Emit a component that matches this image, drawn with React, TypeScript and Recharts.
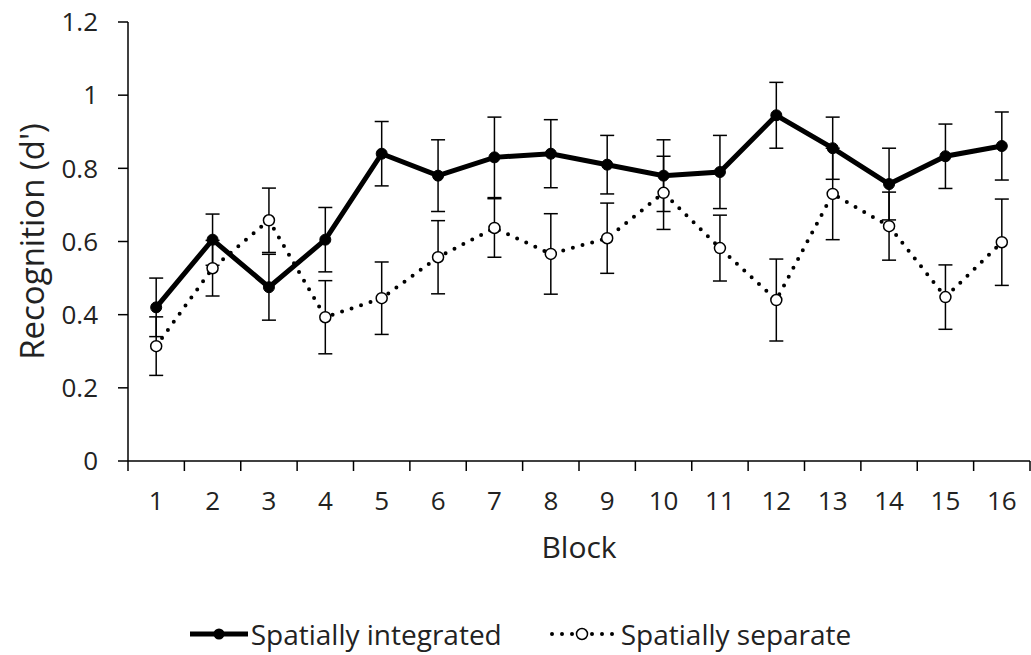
import React from 'react';
import { LineChart, Line, XAxis, YAxis, ErrorBar, Legend } from 'recharts';

const blocks = [1, 2, 3, 4, 5, 6, 7, 8, 9, 10, 11, 12, 13, 14, 15, 16];
const integrated = [0.42, 0.605, 0.475, 0.605, 0.84, 0.78, 0.83, 0.84, 0.81, 0.78, 0.79, 0.945, 0.855, 0.757, 0.833, 0.861];
const integratedErr = [0.08, 0.07, 0.09, 0.088, 0.088, 0.098, 0.11, 0.093, 0.08, 0.098, 0.1, 0.09, 0.085, 0.098, 0.088, 0.093];
const separate = [0.314, 0.527, 0.658, 0.393, 0.445, 0.557, 0.637, 0.566, 0.609, 0.733, 0.582, 0.44, 0.73, 0.642, 0.448, 0.598];
const separateErr = [0.08, 0.076, 0.088, 0.1, 0.099, 0.1, 0.08, 0.11, 0.096, 0.1, 0.09, 0.112, 0.125, 0.093, 0.088, 0.118];
const yTicks = [0, 0.2, 0.4, 0.6, 0.8, 1, 1.2];

const data = blocks.map((b, i) => ({
  block: b,
  integrated: integrated[i],
  integratedErr: integratedErr[i],
  separate: separate[i],
  separateErr: separateErr[i],
}));

// tick marks sit on the block boundaries, labels in between
const xBounds = blocks.map((b) => b - 0.5).concat(blocks[blocks.length - 1] + 0.5);

const FONT = '"Open Sans", sans-serif';
const TEXT = '#222';
const W = 1031;
const H = 655;
const margin = { top: 22, right: 1, bottom: 1, left: 60 };
const Y_AXIS_W = 68;
const halfBand = (W - margin.left - margin.right - Y_AXIS_W) / (blocks.length * 2);

const XTick = (props: any) => {
  const { x, y, payload } = props;
  const label = payload.value + 0.5;
  if (label > blocks[blocks.length - 1]) return <g />;
  return (
    <text x={x + halfBand} y={y} dy="0.71em" textAnchor="middle" fontSize={26} fill={TEXT} fontFamily={FONT}>
      {label}
    </text>
  );
};

const renderLegend = () => (
  <div
    style={{
      display: 'flex',
      justifyContent: 'center',
      alignItems: 'center',
      height: 40,
      fontFamily: FONT,
      fontSize: 28,
      color: TEXT,
    }}
  >
    <svg width={58} height={20} style={{ marginRight: 3 }}>
      <line x1={0} y1={10} x2={58} y2={10} stroke="#000" strokeWidth={5} />
      <circle cx={29} cy={10} r={5.5} fill="#000" />
    </svg>
    <span>Spatially integrated</span>
    <svg width={68} height={20} style={{ marginLeft: 46, marginRight: 5 }}>
      <line x1={4} y1={10} x2={68} y2={10} stroke="#000" strokeWidth={4} strokeDasharray="0 10" strokeLinecap="round" />
      <circle cx={34} cy={10} r={5.5} fill="#fff" stroke="#000" strokeWidth={1.5} />
    </svg>
    <span>Spatially separate</span>
  </div>
);

export default function App() {
  return (
    <div>
      <style>{'body{margin:0}'}</style>
      <LineChart width={W} height={H} data={data} margin={margin}>
        <XAxis
          dataKey="block"
          type="number"
          domain={[0.5, 16.5]}
          ticks={xBounds}
          interval={0}
          tick={<XTick />}
          tickSize={10}
          tickMargin={21}
          height={153}
          stroke="#000"
          strokeWidth={1.5}
          label={{
            content: ({ viewBox }: any) => (
              <text
                x={viewBox.x + viewBox.width / 2}
                y={viewBox.y + 97}
                textAnchor="middle"
                fontSize={30}
                fill={TEXT}
                fontFamily={FONT}
              >
                Block
              </text>
            ),
          }}
        />
        <YAxis
          type="number"
          domain={[0, 1.2]}
          ticks={yTicks}
          width={Y_AXIS_W}
          tickSize={10}
          tickMargin={20}
          stroke="#000"
          strokeWidth={1.5}
          tick={{ fontSize: 26, fill: TEXT, fontFamily: FONT }}
          label={{
            content: ({ viewBox }: any) => {
              const cx = viewBox.x - 29;
              const cy = viewBox.y + viewBox.height / 2;
              return (
                <text
                  x={cx}
                  y={cy}
                  transform={`rotate(-90 ${cx} ${cy})`}
                  textAnchor="middle"
                  dominantBaseline="central"
                  fontSize={33}
                  fill={TEXT}
                  fontFamily={FONT}
                >
                  Recognition (d')
                </text>
              );
            },
          }}
        />
        <Legend verticalAlign="bottom" content={renderLegend} wrapperStyle={{ left: 10, width: W - 10 }} />
        <Line
          dataKey="separate"
          name="Spatially separate"
          stroke="#000"
          strokeWidth={4}
          strokeDasharray="0 10"
          strokeLinecap="round"
          dot={{ r: 5.5, fill: '#fff', stroke: '#000', strokeWidth: 1.5, strokeDasharray: 'none' }}
          isAnimationActive={false}
        >
          <ErrorBar dataKey="separateErr" width={7} stroke="#000" strokeWidth={1.5} />
        </Line>
        <Line
          dataKey="integrated"
          name="Spatially integrated"
          stroke="#000"
          strokeWidth={5}
          dot={{ r: 5.5, fill: '#000', stroke: '#000', strokeWidth: 1 }}
          isAnimationActive={false}
        >
          <ErrorBar dataKey="integratedErr" width={7} stroke="#000" strokeWidth={1.5} />
        </Line>
      </LineChart>
    </div>
  );
}
